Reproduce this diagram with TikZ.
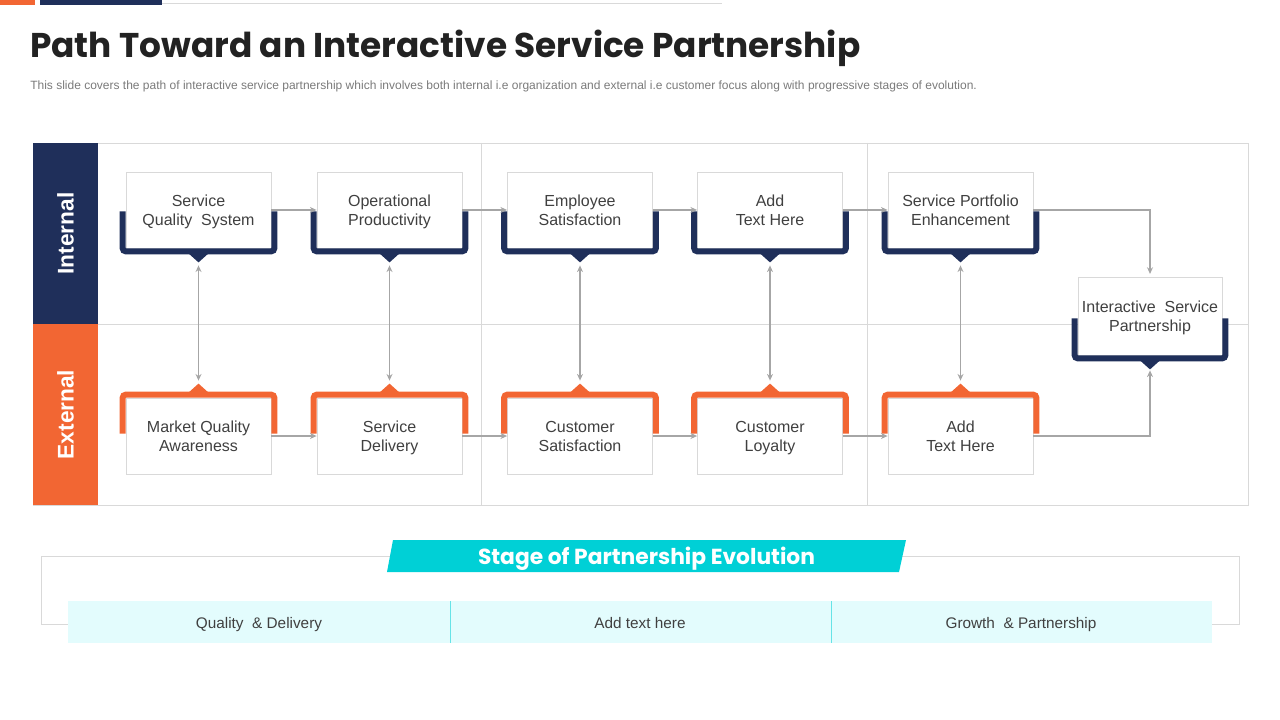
\documentclass[tikz,border=0pt]{standalone}
\usepackage{fontspec}
\setmainfont{Liberation Sans}
\newfontfamily\titlefont{Poppins}
\usetikzlibrary{calc,arrows.meta}
\definecolor{navy}{HTML}{1F2F5A}
\definecolor{orng}{HTML}{F26633}
\definecolor{lgray}{HTML}{D9D9D9}
\definecolor{agray}{HTML}{A6A6A6}
\definecolor{txt}{HTML}{404040}
\definecolor{subt}{HTML}{7A7A7A}
\definecolor{cyanb}{HTML}{00D0D6}
\definecolor{lcyan}{HTML}{E3FCFD}
\definecolor{ttl}{HTML}{222222}
\newcommand\twol[2]{\rule{0pt}{13pt}#1\\\strut #2}
\newcommand\navybr[1]{%
  \draw[brk, navy] ($(#1.south west)+(-3,-37)$) -- ($(#1.south west)+(-3,3)$) -- ($(#1.south east)+(3,3)$) -- ($(#1.south east)+(3,-37)$);
  \fill[navy] ($(#1.south)+(-10,5)$) -- ($(#1.south)+(10,5)$) -- ($(#1.south)+(0,14)$) -- cycle;
}
\newcommand\orngbr[1]{%
  \draw[brk, orng] ($(#1.north west)+(-3,36)$) -- ($(#1.north west)+(-3,-3)$) -- ($(#1.north east)+(3,-3)$) -- ($(#1.north east)+(3,36)$);
  \fill[orng] ($(#1.north)+(-10,-5)$) -- ($(#1.north)+(10,-5)$) -- ($(#1.north)+(0,-14)$) -- cycle;
}
\begin{document}
\begin{tikzpicture}[x=0.75pt,y=-0.75pt,
 box/.style={draw=lgray, line width=0.6pt, fill=white, minimum width=108.75pt, minimum height=57pt, inner sep=0pt, align=center, text=txt, font=\fontsize{12}{14.25}\selectfont},
 arr/.style={draw=agray, line width=0.9pt, -{Stealth[length=5pt,width=4.5pt]}},
 darr/.style={draw=agray, line width=0.9pt, {Stealth[length=5pt,width=4.5pt]}-{Stealth[length=5pt,width=4.5pt]}, shorten <=12.75pt, shorten >=12.75pt},
 brk/.style={line width=4.5pt, rounded corners=2.5pt},
 side/.style={rotate=90, minimum width=135.75pt, minimum height=48.75pt, inner sep=0pt, text=white, font=\fontsize{17}{17}\selectfont\bfseries},
 stage/.style={text=txt, anchor=base, inner sep=0pt, font=\fontsize{11.5}{13}\selectfont},
]
\useasboundingbox (0,0) rectangle (1280,720);
% top decoration
\fill[orng] (0,0) rectangle (35,5);
\fill[navy] (40,0) rectangle (162,5);
\draw[lgray, line width=0.6pt] (162,3) -- (722,3);
% title
\node[anchor=base west, inner sep=0pt, text=ttl] (title) at (30,58) {\resizebox{622.5pt}{!}{\titlefont\bfseries Path Toward an Interactive Service Partnership}};
\node[anchor=base west, inner sep=0pt, text=subt] (sub) at (30,89.5) {\resizebox{710pt}{!}{\fontsize{8}{9}\selectfont This slide covers the path of interactive service partnership which involves both internal i.e organization and external i.e customer focus along with progressive stages of evolution.}};
% frame
\draw[lgray, line width=0.6pt] (33,143) rectangle (1248,505);
\draw[lgray, line width=0.6pt] (481,143) -- (481,505);
\draw[lgray, line width=0.6pt] (867,143) -- (867,505);
\draw[lgray, line width=0.6pt] (98,324) -- (1248,324);
\node[side, fill=navy] (lint) at (65.5,233.5) {Internal};
\node[side, fill=orng] (lext) at (65.5,414.5) {External};
% top row
\node[box] (i1) at (198.5,210) {\twol{Service}{Quality\ \ System}};
\node[box] (i2) at (389.5,210) {\twol{Operational}{Productivity}};
\node[box] (i3) at (580,210) {\twol{Employee}{Satisfaction}};
\node[box] (i4) at (770,210) {\twol{Add}{Text Here}};
\node[box] (i5) at (960.5,210) {\twol{Service Portfolio}{Enhancement}};
% bottom row
\node[box] (e1) at (198.5,436) {\twol{Market Quality}{Awareness}};
\node[box] (e2) at (389.5,436) {\twol{Service}{Delivery}};
\node[box] (e3) at (580,436) {\twol{Customer}{Satisfaction}};
\node[box] (e4) at (770,436) {\twol{Customer}{Loyalty}};
\node[box] (e5) at (960.5,436) {\twol{Add}{Text Here}};
% final
\node[box, minimum width=108pt, minimum height=58.5pt] (f) at (1150,316) {\twol{Interactive\ \ Service}{Partnership}};
\foreach \n in {i1,i2,i3,i4,i5,f}{\navybr{\n}}
\foreach \n in {e1,e2,e3,e4,e5}{\orngbr{\n}}
% connectors
\draw[arr] (i1.east) -- (i2.west);
\draw[arr] (i2.east) -- (i3.west);
\draw[arr] (i3.east) -- (i4.west);
\draw[arr] (i4.east) -- (i5.west);
\draw[arr] (e1.east) -- (e2.west);
\draw[arr] (e2.east) -- (e3.west);
\draw[arr] (e3.east) -- (e4.west);
\draw[arr] (e4.east) -- (e5.west);
\foreach \k in {1,...,5}{\draw[darr] (i\k.south) -- (e\k.north);}
\draw[arr, shorten >=2pt] (i5.east) -| (f.north);
\draw[arr, shorten >=11.25pt] (e5.east) -| (f.south);
% bottom section
\draw[lgray, line width=0.6pt] (41,556) rectangle (1239,624);
\fill[cyanb] (393,540) -- (906,540) -- (899,572) -- (387,572) -- cycle;
\node[text=white, inner sep=0pt] (stg) at (646.5,559) {\resizebox{252.75pt}{!}{\titlefont\bfseries Stage of Partnership Evolution}};
\node[fill=lcyan, minimum width=858pt, minimum height=31.5pt, inner sep=0pt] (band) at (640,622) {};
\draw[cyanb!60, line width=0.6pt] (450,601) -- (450,643);
\draw[cyanb!60, line width=0.6pt] (831,601) -- (831,643);
\node[stage] (s1) at (259,628) {Quality\ \ \& Delivery};
\node[stage] (s2) at (640,628) {Add text here};
\node[stage] (s3) at (1021,628) {Growth\ \ \& Partnership};
\end{tikzpicture}
\end{document}
